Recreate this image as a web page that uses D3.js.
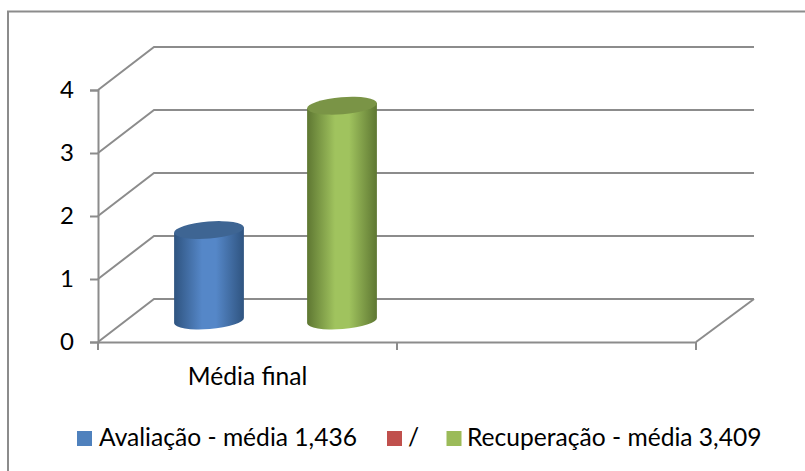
<!DOCTYPE html>
<html>
<head>
<meta charset="utf-8">
<script src="https://cdn.jsdelivr.net/npm/d3@7"></script>
<style>
	html, body { margin: 0; padding: 0; background: #fff; overflow: hidden; }
	text { font-family: Lato, "Open Sans", sans-serif; fill: #000; }
</style>
</head>
<body>
<div id="chart"></div>
<script>
const categories = ["Média final", ""]
const seriesNames = ["Avaliação - média 1,436", "/", "Recuperação - média 3,409"]
const seriesValues = [1.436, null, 3.409]
const seriesColors = ["#4f81bd", "#c0504d", "#9bbb59"]
const yTicks = [0, 1, 2, 3, 4]

const width = 805
const height = 471
const depth = { x: 56, y: -43 }
const wallRight = 754
const lineColor = "#8c8c8c"
const fontSize = "24.6px"

const svg = d3.select("#chart").append("svg")
	.attr("width", width)
	.attr("height", height)

// frame, the right and bottom sides are cut off in the picture
svg.append("path")
	.attr("d", "M8,471V11.5H805")
	.attr("fill", "none")
	.attr("stroke", lineColor)
	.attr("stroke-width", 2)

const x = d3.scaleBand().domain(d3.range(categories.length)).range([98, 696])
const y = d3.scaleLinear().domain([0, 4]).range([342, 90])
const xSeries = d3.scalePoint()
	.domain(d3.range(seriesNames.length))
	.range([x(0) + x.bandwidth() / 2 - 66.5, x(0) + x.bandwidth() / 2 + 66.5])

// back wall gridlines with their side wall part
svg.append("g")
	.selectAll("path")
	.data(yTicks)
	.join("path")
	.attr("d", (d) => `M${x.range()[0]},${y(d)}l${depth.x},${depth.y}H${wallRight}`)
	.attr("fill", "none")
	.attr("stroke", lineColor)
	.attr("stroke-width", 2)

// floor edge on the right
svg.append("line")
	.attr("x1", x.range()[1])
	.attr("y1", y(0))
	.attr("x2", wallRight)
	.attr("y2", y(0) + depth.y)
	.attr("stroke", lineColor)
	.attr("stroke-width", 2)

// y axis
const yAxis = svg.append("g")
	.attr("transform", `translate(${x.range()[0]},0)`)
	.call(d3.axisLeft(y).tickValues(yTicks).tickSize(8).tickPadding(16).tickFormat(d3.format("d")))
yAxis.select(".domain").attr("stroke", lineColor).attr("stroke-width", 2)
yAxis.selectAll(".tick line").attr("stroke", lineColor).attr("stroke-width", 2)
yAxis.selectAll("text").style("font-size", "24px")

// x axis, the ticks sit between the categories
const xAxis = svg.append("g")
	.attr("transform", `translate(0,${y(0)})`)
	.call(d3.axisBottom(x).tickSize(0).tickPadding(25.5).tickFormat((i) => categories[i]))
xAxis.select(".domain").attr("stroke", lineColor).attr("stroke-width", 2)
xAxis.selectAll("text").style("font-size", fontSize)
xAxis.selectAll("line.edge")
	.data([...categories.map((c, i) => x(i)), x.range()[1]])
	.join("line")
	.attr("class", "edge")
	.attr("x1", (d) => d)
	.attr("x2", (d) => d)
	.attr("y1", 0)
	.attr("y2", 8)
	.attr("stroke", lineColor)
	.attr("stroke-width", 2)

// cylinder shading
const defs = svg.append("defs")
const shades = [
	{ edge: "#2f5480", mid: "#5587c8", top: "#3e6593" },
	null,
	{ edge: "#5e7732", mid: "#a0c35e", top: "#7a9446" },
]
shades.forEach((s, i) => {
	if (!s) return
	const grad = defs.append("linearGradient").attr("id", `cyl${i}`)
	grad.append("stop").attr("offset", "0%").attr("stop-color", s.edge)
	grad.append("stop").attr("offset", "40%").attr("stop-color", s.mid)
	grad.append("stop").attr("offset", "60%").attr("stop-color", s.mid)
	grad.append("stop").attr("offset", "100%").attr("stop-color", s.edge)
})

const rx = 35
const ry = 8.5
const tilt = -4.5
const dx = rx * Math.cos((tilt * Math.PI) / 180)
const dy = rx * Math.sin((tilt * Math.PI) / 180)

const cylinders = svg.append("g")
	.selectAll("g")
	.data(seriesValues.map((v, i) => ({ v, i })).filter((d) => d.v !== null))
	.join("g")
	.attr("transform", (d) => `translate(${xSeries(d.i) + depth.x / 2},${depth.y / 2})`)

cylinders.append("path")
	.attr("d", (d) => {
		const top = y(d.v)
		const base = y(0)
		return `M${-dx},${top - dy}L${-dx},${base - dy}` +
			`A${rx},${ry} ${tilt} 0 0 ${dx},${base + dy}` +
			`L${dx},${top + dy}Z`
	})
	.attr("fill", (d) => `url(#cyl${d.i})`)

cylinders.append("ellipse")
	.attr("rx", rx)
	.attr("ry", ry)
	.attr("transform", (d) => `translate(0,${y(d.v)}) rotate(${tilt})`)
	.attr("fill", (d) => shades[d.i].top)

// legend
const legendX = [77, 387, 446.5]
const legendTextX = [22, 21, 20.5]
const legend = svg.append("g")
	.selectAll("g")
	.data(seriesNames)
	.join("g")
	.attr("transform", (d, i) => `translate(${legendX[i]},431)`)
legend.append("rect")
	.attr("width", 15)
	.attr("height", 15)
	.attr("fill", (d, i) => seriesColors[i])
legend.append("text")
	.attr("x", (d, i) => legendTextX[i])
	.attr("y", 14.5)
	.style("font-size", fontSize)
	.text((d) => d)
</script>
</body>
</html>
